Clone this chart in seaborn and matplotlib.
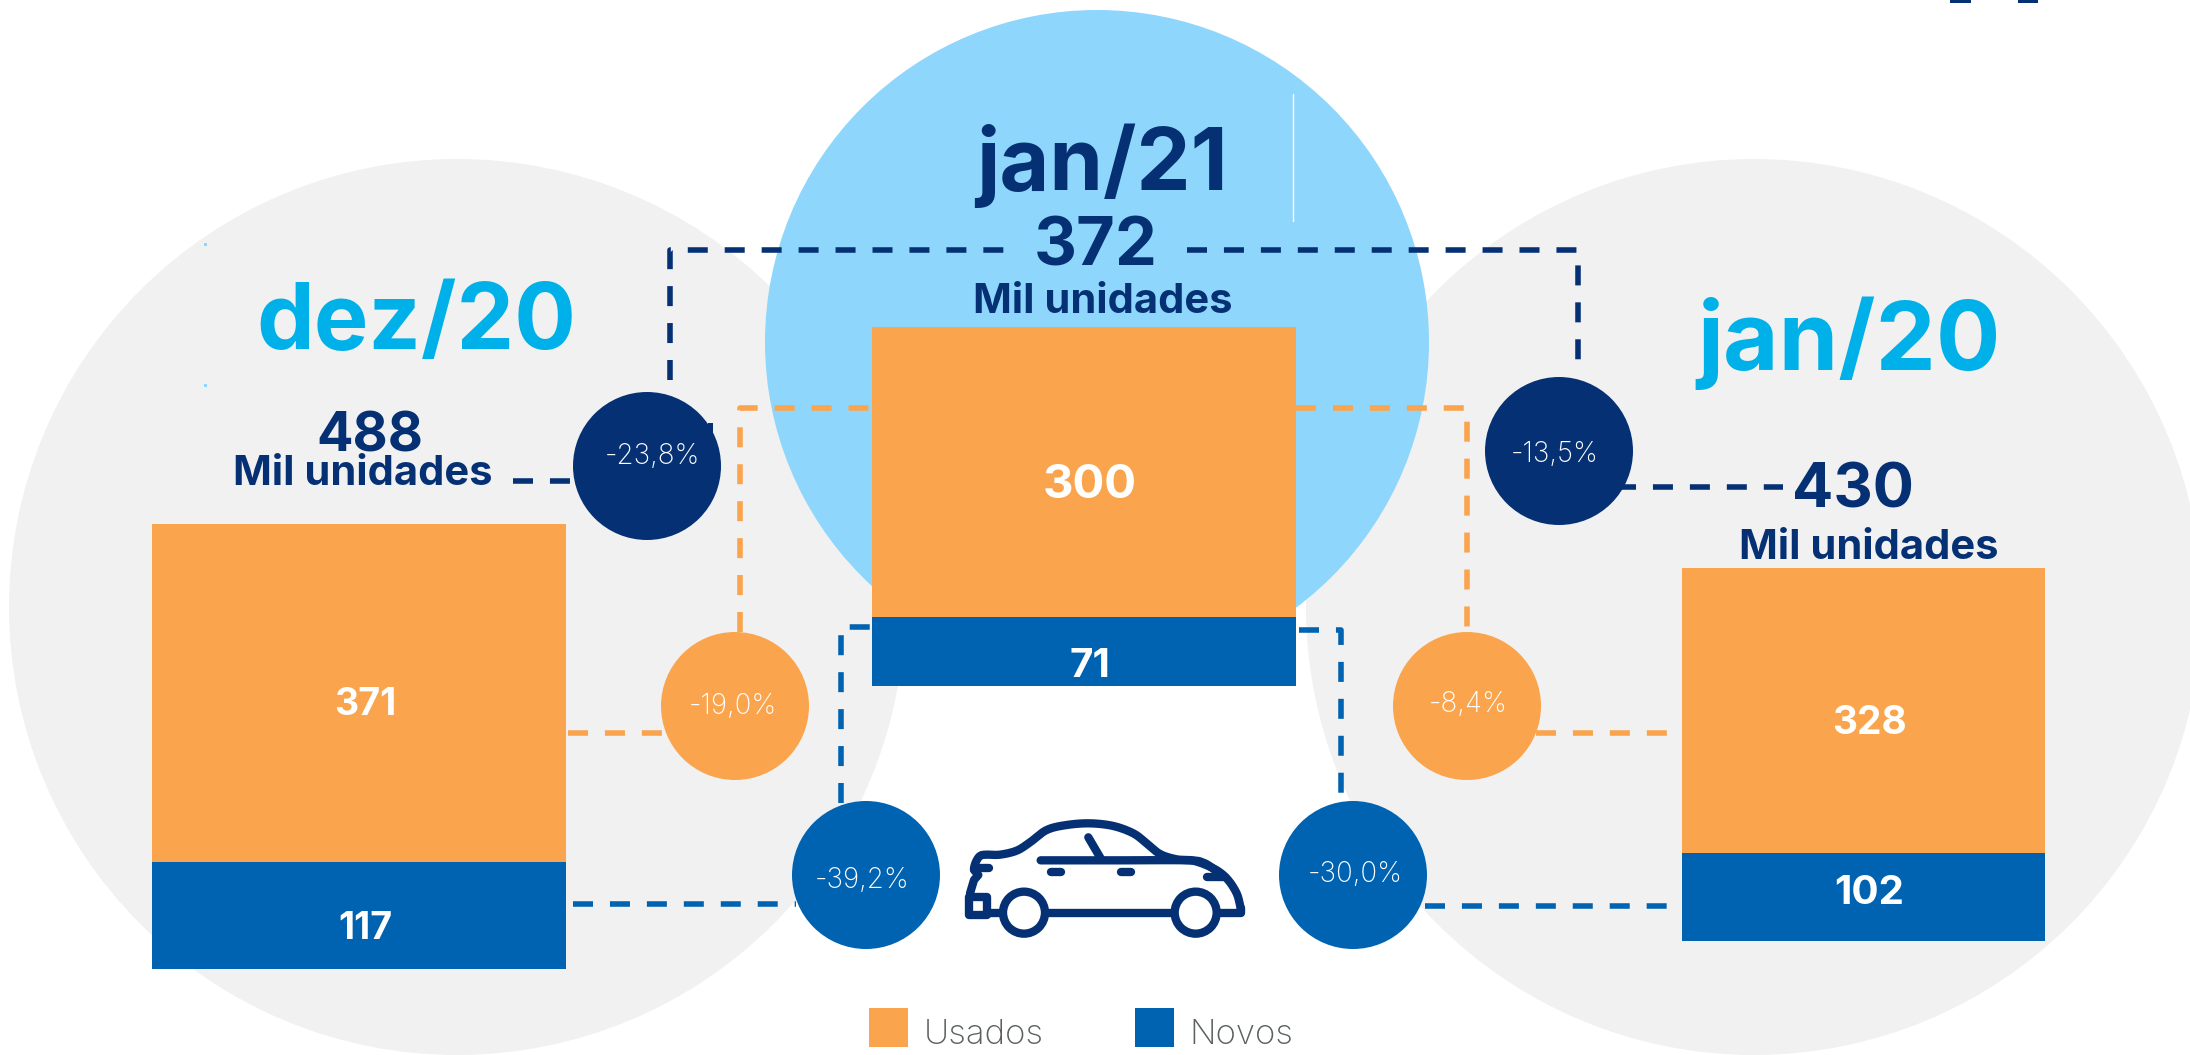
import matplotlib
matplotlib.use("Agg")
import matplotlib.pyplot as plt
import numpy as np
import pandas as pd
import seaborn as sns
from matplotlib.patches import Circle, Patch, Rectangle

# values
periodos = ["dez/20", "jan/21", "jan/20"]
usados = [371, 300, 328]
novos = [117, 71, 102]
totais = [488, 372, 430]
var_total = ["-23,8%", "-13,5%"]
var_usados = ["-19,0%", "-8,4%"]
var_novos = ["-39,2%", "-30,0%"]
unidade = "Mil unidades"
legenda = ["Usados", "Novos"]

LARANJA = "#FAA54D"
AZUL = "#0063B1"
MARINHO = "#053174"
CIANO = "#00B0E8"
CELESTE = "#8ED6FB"
CINZA = "#F1F1F1"
FONTE = "Inter"

sns.set_theme(style="white")
plt.rcParams["font.family"] = [FONTE, "DejaVu Sans"]
plt.rcParams["lines.scale_dashes"] = False

W, H = 2190, 1055
fig = plt.figure(figsize=(W / 100, H / 100), dpi=100, facecolor="white")

# full figure axes in pixels for the decoration
bg = fig.add_axes([0, 0, 1, 1], zorder=0)
bg.set_xlim(0, W)
bg.set_ylim(H, 0)
bg.axis("off")

bg.add_patch(Circle((457, 607), 448, color=CINZA, lw=0, zorder=1))
bg.add_patch(Circle((1754, 607), 448, color=CINZA, lw=0, zorder=1))
bg.add_patch(Circle((1097, 342), 332, color=CELESTE, lw=0, zorder=2))
bg.plot([1293, 1293], [94, 221], color="white", lw=1, zorder=3)
bg.add_patch(Rectangle((1950, 0), 21, 3, color=MARINHO, lw=0))
bg.add_patch(Rectangle((2018, 0), 20, 3, color=MARINHO, lw=0))
bg.add_patch(Rectangle((204, 243), 3, 3, color=CELESTE, lw=0, zorder=3))
bg.add_patch(Rectangle((204, 384), 3, 3, color=CELESTE, lw=0, zorder=3))


def tracejado(pts, cor):
    xs, ys = zip(*pts)
    bg.plot(xs, ys, color=cor, lw=4, linestyle=(0, (14.4, 12.2)), zorder=4,
            solid_capstyle="butt", dash_capstyle="butt")


# dashed connectors
tracejado([(670, 380), (670, 250), (1006, 250)], MARINHO)
tracejado([(1187, 250), (1578, 250), (1578, 375)], MARINHO)
tracejado([(513, 481), (574, 481)], MARINHO)
tracejado([(1616, 487), (1783, 487)], MARINHO)
tracejado([(740, 632), (740, 408), (872, 408)], LARANJA)
tracejado([(1296, 408), (1467, 408), (1467, 632)], LARANJA)
tracejado([(568, 733), (664, 733)], LARANJA)
tracejado([(1536, 733), (1669, 733)], LARANJA)
tracejado([(841, 803), (841, 627), (872, 627)], AZUL)
tracejado([(1299, 630), (1341, 630), (1341, 799)], AZUL)
tracejado([(573, 904), (796, 904)], AZUL)
tracejado([(1425, 906), (1672, 906)], AZUL)
bg.add_patch(Rectangle((708, 423), 5, 10, color=MARINHO, lw=0, zorder=4))

# percentage circles
circulos = [((647, 466), MARINHO, var_total[0], (652, 456)),
            ((1559, 451), MARINHO, var_total[1], (1555, 454)),
            ((735, 706), LARANJA, var_usados[0], (733, 707)),
            ((1467, 706), LARANJA, var_usados[1], (1468, 704)),
            ((866, 875), AZUL, var_novos[0], (862, 880)),
            ((1353, 875), AZUL, var_novos[1], (1355, 875))]
for centro, cor, rotulo, pos in circulos:
    bg.add_patch(Circle(centro, 74, color=cor, lw=0, zorder=5))
    bg.text(pos[0], pos[1], rotulo, color="white", fontsize=20, fontweight="light",
            ha="center", va="center", zorder=6)

# stacked bars, one small axes per month
caixas = [(152, 566, 524, 969), (872, 1296, 327, 686), (1682, 2045, 568, 941)]
tam_rotulos = [(27, 27), (34, 29), (28, 29)]
desvios = [(6, -12, -13), (6, -14, -15), (6, -13, 3)]
for i, periodo in enumerate(periodos):
    x0, x1, y0, y1 = caixas[i]
    ax = fig.add_axes([x0 / W, 1 - y1 / H, (x1 - x0) / W, (y1 - y0) / H], zorder=1)
    dados = pd.DataFrame({"mes": [periodo], "usados": [usados[i] + novos[i]], "novos": [novos[i]]})
    sns.barplot(data=dados, x="mes", y="usados", color=LARANJA, width=1, saturation=1, linewidth=0, ax=ax)
    sns.barplot(data=dados, x="mes", y="novos", color=AZUL, width=1, saturation=1, linewidth=0, ax=ax)
    ax.set_xlim(-0.5, 0.5)
    ax.set_ylim(0, usados[i] + novos[i])
    ax.axis("off")
    dx, du, dn = desvios[i]
    ax.annotate(str(usados[i]), (0, novos[i] + usados[i] / 2), xytext=(dx * 0.72, du * 0.72),
                textcoords="offset points", color="white", fontsize=tam_rotulos[i][0],
                fontweight="bold", ha="center", va="center")
    ax.annotate(str(novos[i]), (0, novos[i] / 2), xytext=(dx * 0.72, dn * 0.72),
                textcoords="offset points", color="white", fontsize=tam_rotulos[i][1],
                fontweight="bold", ha="center", va="center")

# month titles and totals
top = fig.add_axes([0, 0, 1, 1], zorder=2)
top.set_xlim(0, W)
top.set_ylim(H, 0)
top.axis("off")
top.patch.set_alpha(0)
top.text(416, 349, periodos[0], color=CIANO, fontsize=66, fontweight="bold", ha="center", va="baseline")
top.text(1102, 190, periodos[1], color=MARINHO, fontsize=62, fontweight="bold", ha="center", va="baseline")
top.text(1849, 370, periodos[2], color=CIANO, fontsize=69, fontweight="bold", ha="center", va="baseline")
top.text(370, 451, str(totais[0]), color=MARINHO, fontsize=39, fontweight="bold", ha="center", va="baseline")
top.text(1096, 265, str(totais[1]), color=MARINHO, fontsize=48, fontweight="bold", ha="center", va="baseline")
top.text(1853, 508, str(totais[2]), color=MARINHO, fontsize=44, fontweight="bold", ha="center", va="baseline")
top.text(363, 485, unidade, color=MARINHO, fontsize=30, fontweight="bold", ha="center", va="baseline")
top.text(1103, 313, unidade, color=MARINHO, fontsize=30, fontweight="bold", ha="center", va="baseline")
top.text(1869, 559, unidade, color=MARINHO, fontsize=30, fontweight="bold", ha="center", va="baseline")


# car icon, traced in pixels
def zx(v):
    return 850 + np.array(v) / 3


def zy(v):
    return 780 + np.array(v) / 3


def suave(xs, ys, n=12):
    # catmull-rom through the traced points so the body outline is not jagged
    p = np.column_stack([xs, ys]).astype(float)
    p = np.vstack([p[0], p, p[-1]])
    t = np.linspace(0, 1, n, endpoint=False)[:, None]
    saida = []
    for a, b, c, d in zip(p[:-3], p[1:-2], p[2:-1], p[3:]):
        saida.append(0.5 * (2 * b + (c - a) * t + (2 * a - 5 * b + 4 * c - d) * t ** 2
                            + (3 * b - a - 3 * c + d) * t ** 3))
    saida = np.vstack(saida + [p[-1:]])
    return saida[:, 0], saida[:, 1]


def traco(xs, ys):
    top.plot(zx(xs), zy(ys), color=MARINHO, lw=6, solid_capstyle="round", solid_joinstyle="round")


traco(*suave([375, 372, 378, 390, 408, 450, 500, 540, 590, 650, 720, 790, 850, 890, 930, 980, 1030,
              1090, 1130, 1160, 1172],
             [270, 265, 245, 228, 224, 224, 212, 187, 150, 135, 130, 138, 160, 190, 222, 238, 242,
              265, 295, 340, 385]))
traco([360, 372, 385, 372], [340, 300, 285, 270])
traco([1172, 1172, 1110], [385, 398, 398])
traco([595, 965], [398, 398])
traco([415, 450], [398, 398])
traco(*suave([572, 800, 1010, 1060, 1095], [241, 241, 241, 248, 270]))
traco([715, 752], [172, 235])
traco([603, 632], [277, 277])
traco([812, 842], [277, 277])
traco([385, 418], [265, 265])
traco([1072, 1125], [290, 290])
for cx in (522, 1037):
    top.add_patch(Circle((zx(cx), zy(398)), 21, fill=False, ec=MARINHO, lw=6))
top.add_patch(Rectangle((zx(356), zy(350)), 18, 18, fc="white", ec=MARINHO, lw=6, joinstyle="round"))

# legend
maos = [Patch(color=LARANJA, lw=0), Patch(color=AZUL, lw=0)]
leg = top.legend(maos, legenda, loc="lower left", bbox_to_anchor=(869, 1047), bbox_transform=top.transData,
                 ncol=2, frameon=False, borderpad=0, borderaxespad=0, handlelength=1.124, handleheight=1.352,
                 handletextpad=0.44, columnspacing=2.65, labelcolor="#5A5F5F",
                 prop={"family": FONTE, "size": 25, "weight": "light"})
for t in leg.get_texts():
    t.set_y(-5)

fig.savefig("out.png", dpi=100)
